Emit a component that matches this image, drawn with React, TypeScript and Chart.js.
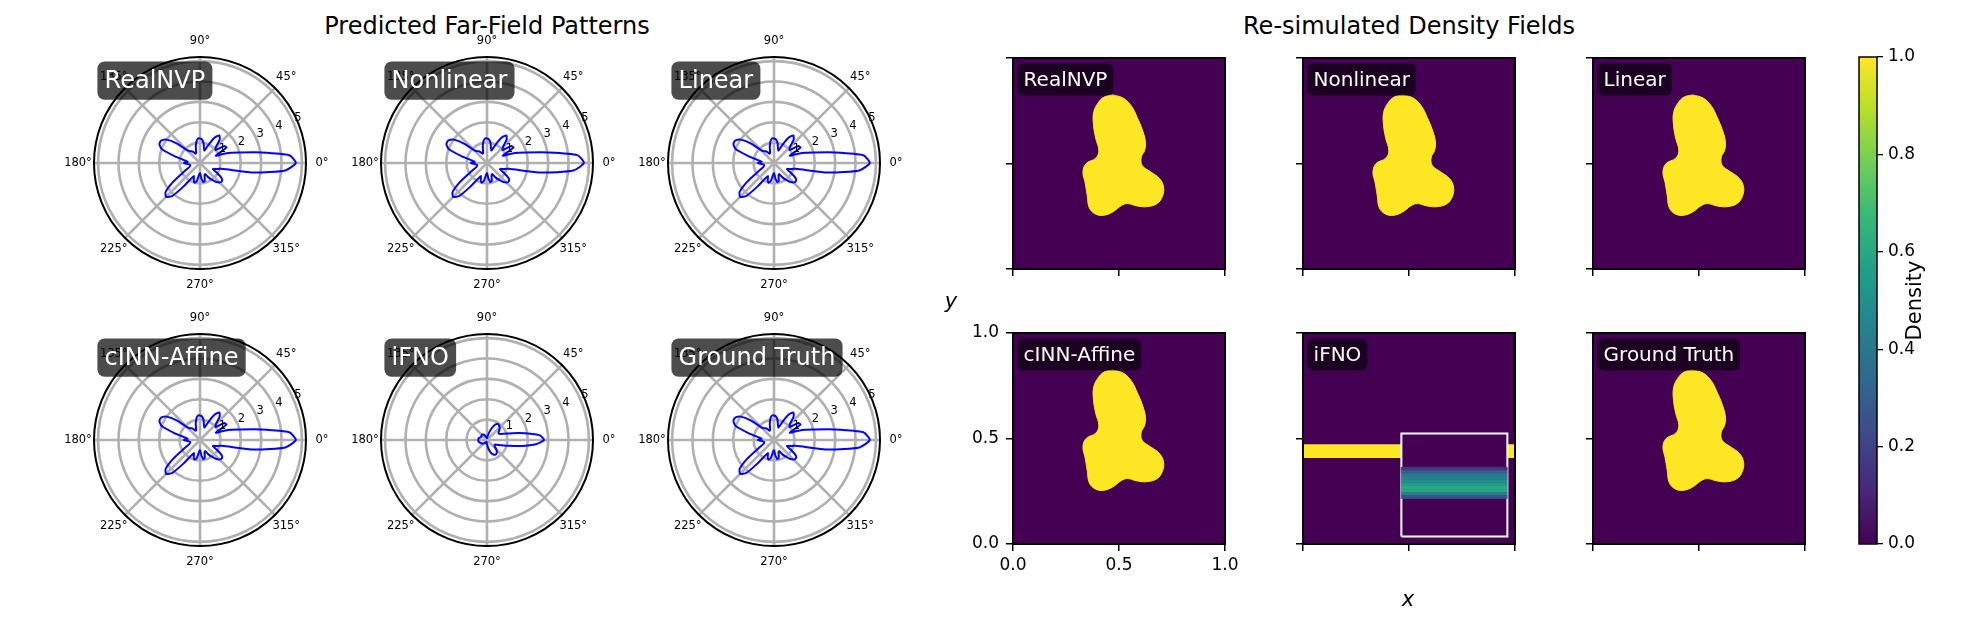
import React, { useEffect, useRef } from 'react';
import { Chart, registerables } from 'chart.js';

Chart.register(...registerables);
Chart.defaults.font.family = '"DejaVu Sans", sans-serif';
Chart.defaults.color = '#000';

// ---------- data: far-field patterns (radius vs angle, degrees counter-clockwise) ----------
const ANGLES_DEG = [0, 5, 10, 15, 20, 25, 30, 35, 40, 45, 50, 55, 60, 65, 70, 75, 80, 85, 90, 95, 100, 105, 110, 115, 120, 125, 130, 135, 140, 145, 150, 155, 160, 165, 170, 175, 180, 185, 190, 195, 200, 205, 210, 215, 220, 225, 230, 235, 240, 245, 250, 255, 260, 265, 270, 275, 280, 285, 290, 295, 300, 305, 310, 315, 320, 325, 330, 335, 340, 345, 350, 355];

const REALNVP = [4.7, 4.4, 3.0, 2.0, 1.45, 0.85, 1.5, 1.45, 1.0, 1.1, 1.5, 1.65, 1.45, 1.0, 0.65, 0.75, 1.0, 1.15, 1.2, 1.2, 1.05, 0.8, 0.55, 0.5, 0.6, 0.7, 0.75, 0.9, 1.5, 2.0, 2.2, 2.2, 2.0, 1.3, 0.8, 0.6, 0.8, 0.6, 0.5, 0.5, 0.55, 0.7, 1.0, 1.6, 2.2, 2.35, 2.1, 1.4, 0.9, 0.7, 0.9, 1.0, 0.9, 0.6, 0.5, 0.75, 0.95, 0.9, 0.65, 0.6, 0.8, 1.0, 1.2, 1.35, 1.4, 1.3, 0.95, 0.7, 0.85, 1.1, 2.7, 4.2];
const NONLINEAR = [4.75, 4.45, 3.0, 2.0, 1.45, 0.85, 1.5, 1.45, 1.0, 1.1, 1.5, 1.65, 1.45, 1.0, 0.65, 0.75, 1.0, 1.15, 1.2, 1.2, 1.05, 0.8, 0.55, 0.5, 0.6, 0.7, 0.75, 0.9, 1.5, 2.0, 2.2, 2.2, 2.0, 1.3, 0.8, 0.6, 0.8, 0.6, 0.5, 0.5, 0.55, 0.7, 1.0, 1.6, 2.2, 2.35, 2.1, 1.4, 0.9, 0.7, 0.9, 1.0, 0.9, 0.6, 0.5, 0.75, 0.95, 0.9, 0.65, 0.6, 0.8, 1.0, 1.2, 1.35, 1.4, 1.3, 0.95, 0.7, 0.85, 1.1, 2.7, 4.25];
const LINEAR = [4.7, 4.4, 3.0, 2.0, 1.45, 0.85, 1.5, 1.45, 1.0, 1.1, 1.5, 1.65, 1.45, 1.0, 0.65, 0.75, 1.0, 1.15, 1.2, 1.2, 1.05, 0.8, 0.55, 0.5, 0.6, 0.7, 0.75, 0.9, 1.5, 2.0, 2.2, 2.2, 2.0, 1.3, 0.8, 0.6, 0.8, 0.6, 0.5, 0.5, 0.55, 0.7, 1.0, 1.6, 2.2, 2.35, 2.1, 1.4, 0.9, 0.7, 0.9, 1.0, 0.9, 0.6, 0.5, 0.75, 0.95, 0.9, 0.65, 0.6, 0.8, 1.0, 1.2, 1.35, 1.4, 1.3, 0.95, 0.7, 0.85, 1.1, 2.7, 4.2];
const CINN_AFFINE = [4.7, 4.4, 3.0, 2.0, 1.45, 0.85, 1.5, 1.45, 1.0, 1.1, 1.5, 1.65, 1.45, 1.0, 0.65, 0.75, 1.0, 1.15, 1.2, 1.2, 1.05, 0.8, 0.55, 0.5, 0.6, 0.7, 0.75, 0.9, 1.5, 2.0, 2.2, 2.2, 2.0, 1.3, 0.8, 0.6, 0.8, 0.6, 0.5, 0.5, 0.55, 0.7, 1.0, 1.6, 2.2, 2.35, 2.1, 1.4, 0.9, 0.7, 0.9, 1.0, 0.9, 0.6, 0.5, 0.75, 0.95, 0.9, 0.65, 0.6, 0.8, 1.0, 1.2, 1.35, 1.4, 1.3, 0.95, 0.7, 0.85, 1.1, 2.7, 4.2];
const IFNO = [2.8, 2.6, 1.9, 1.3, 0.9, 0.7, 0.65, 0.7, 0.8, 0.88, 0.93, 0.95, 0.9, 0.75, 0.55, 0.35, 0.2, 0.12, 0.1, 0.1, 0.12, 0.15, 0.2, 0.25, 0.3, 0.33, 0.35, 0.35, 0.35, 0.33, 0.32, 0.33, 0.36, 0.4, 0.42, 0.43, 0.43, 0.43, 0.42, 0.4, 0.37, 0.34, 0.32, 0.3, 0.28, 0.25, 0.22, 0.18, 0.15, 0.12, 0.1, 0.1, 0.12, 0.15, 0.2, 0.3, 0.45, 0.6, 0.72, 0.8, 0.83, 0.82, 0.75, 0.62, 0.5, 0.45, 0.45, 0.55, 0.75, 1.1, 1.7, 2.4];
const GROUND_TRUTH = [4.7, 4.4, 3.0, 2.0, 1.45, 0.85, 1.5, 1.45, 1.0, 1.1, 1.5, 1.65, 1.45, 1.0, 0.65, 0.75, 1.0, 1.15, 1.2, 1.2, 1.05, 0.8, 0.55, 0.5, 0.6, 0.7, 0.75, 0.9, 1.5, 2.0, 2.2, 2.2, 2.0, 1.3, 0.8, 0.6, 0.8, 0.6, 0.5, 0.5, 0.55, 0.7, 1.0, 1.6, 2.2, 2.35, 2.1, 1.4, 0.9, 0.7, 0.9, 1.0, 0.9, 0.6, 0.5, 0.75, 0.95, 0.9, 0.65, 0.6, 0.8, 1.0, 1.2, 1.35, 1.4, 1.3, 0.95, 0.7, 0.85, 1.1, 2.7, 4.2];

const MODEL_NAMES = ['RealNVP', 'Nonlinear', 'Linear', 'cINN-Affine', 'iFNO', 'Ground Truth'];
const PATTERNS = [REALNVP, NONLINEAR, LINEAR, CINN_AFFINE, IFNO, GROUND_TRUTH];

const RADIAL_TICKS = [1, 2, 3, 4, 5];
const ANGLE_TICKS = [0, 45, 90, 135, 180, 225, 270, 315];
const R_MAX = 5.2;
const R_LABEL_ANGLE = 22.5;

// ---------- data: density fields (unit square) ----------
const BLOB_X = [0.47, 0.52, 0.56, 0.585, 0.61, 0.625, 0.62, 0.605, 0.61, 0.65, 0.69, 0.71, 0.705, 0.68, 0.63, 0.58, 0.54, 0.51, 0.47, 0.43, 0.39, 0.36, 0.35, 0.34, 0.33, 0.345, 0.39, 0.405, 0.39, 0.38, 0.38, 0.40, 0.43, 0.47];
const BLOB_Y = [0.825, 0.81, 0.77, 0.72, 0.66, 0.60, 0.56, 0.53, 0.49, 0.46, 0.43, 0.39, 0.345, 0.31, 0.295, 0.30, 0.31, 0.30, 0.27, 0.255, 0.26, 0.29, 0.35, 0.41, 0.46, 0.50, 0.525, 0.56, 0.62, 0.68, 0.74, 0.785, 0.815, 0.825];

const IFNO_BAND_Y = [0.41, 0.47];
const INSET_X = [0.464, 0.964];
const INSET_Y = [0.035, 0.524];
const INSET_ROW_EDGES = [0.215, 0.23, 0.245, 0.26, 0.275, 0.29, 0.305, 0.32, 0.335, 0.35, 0.365];
const INSET_ROW_VALUES = [0.25, 0.45, 0.6, 0.6, 0.55, 0.5, 0.45, 0.4, 0.3, 0.15];

const DENSITY_TICKS = [0, 0.5, 1];
const CBAR_TICKS = [0, 0.2, 0.4, 0.6, 0.8, 1.0];

const VIRIDIS = ['#440154', '#482878', '#3e4989', '#31688e', '#26828e', '#1f9e89', '#35b779', '#6ece58', '#b5de2b', '#fde725'];
const PURPLE = VIRIDIS[0];
const YELLOW = VIRIDIS[VIRIDIS.length - 1];

function hexToRgb(h: string) {
  const n = parseInt(h.slice(1), 16);
  return [(n >> 16) & 255, (n >> 8) & 255, n & 255];
}
function viridis(t: number) {
  const x = Math.max(0, Math.min(1, t)) * (VIRIDIS.length - 1);
  const i = Math.min(Math.floor(x), VIRIDIS.length - 2);
  const f = x - i;
  const a = hexToRgb(VIRIDIS[i]);
  const b = hexToRgb(VIRIDIS[i + 1]);
  const c = a.map((v, k) => Math.round(v + (b[k] - v) * f));
  return `rgb(${c[0]},${c[1]},${c[2]})`;
}

const FONT = '"DejaVu Sans", sans-serif';

function drawLabelBox(c: CanvasRenderingContext2D, text: string, left: number, top: number, size: number, f: number, alpha: number) {
  c.save();
  c.font = `${f}px ${FONT}`;
  const tx = left + 0.05 * size;
  const ty = top + 0.05 * size + 1;
  const tw = c.measureText(text).width;
  const pad = 0.3 * f;
  const bx = tx - pad, by = ty - pad, bw = tw + 2 * pad, bh = f + 2 * pad;
  c.beginPath();
  (c as any).roundRect(bx, by, bw, bh, pad);
  c.fillStyle = `rgba(0,0,0,${alpha})`;
  c.fill();
  c.fillStyle = '#fff';
  c.textAlign = 'left';
  c.textBaseline = 'middle';
  c.fillText(text, tx, by + bh / 2 + 1);
  c.restore();
}

// ---------- polar panel ----------
const PW = 290, PH = 280;
function PolarPanel({ title, values, cx, cy }: { title: string; values: number[]; cx: number; cy: number }) {
  const ref = useRef<HTMLCanvasElement>(null);
  useEffect(() => {
    const n = ANGLES_DEG.length;
    const step = 360 / n;
    // radar goes clockwise from startAngle; map index i -> math angle -i*step
    const order = ANGLES_DEG.map((_, i) => (n - i) % n);
    const labels = order.map((k) => ANGLES_DEG[k]);
    const data = order.map((k) => values[k]);
    const idxOf = (deg: number) => ((360 - deg) % 360) / step;
    const decor = {
      id: 'polarDecor',
      afterDraw(chart: any) {
        const s = chart.scales.r;
        const c: CanvasRenderingContext2D = chart.ctx;
        const R = s.getDistanceFromCenterForValue(R_MAX);
        c.save();
        c.beginPath();
        c.arc(s.xCenter, s.yCenter, R, 0, Math.PI * 2);
        c.strokeStyle = '#000';
        c.lineWidth = 2;
        c.stroke();
        c.fillStyle = '#000';
        c.font = `11.5px ${FONT}`;
        c.textAlign = 'center';
        c.textBaseline = 'middle';
        ANGLE_TICKS.forEach((a) => {
          const p = s.getPointPosition(idxOf(a), R + 16);
          c.fillText(`${a}°`, p.x, p.y);
        });
        c.textAlign = 'left';
        c.textBaseline = 'bottom';
        RADIAL_TICKS.forEach((v) => {
          const p = s.getPointPosition(idxOf(R_LABEL_ANGLE), s.getDistanceFromCenterForValue(v));
          c.fillText(String(v), p.x, p.y);
        });
        c.restore();
        drawLabelBox(c, title, s.xCenter - R, s.yCenter - R, 2 * R, 24, 0.7);
      },
    };
    const chart = new Chart(ref.current as HTMLCanvasElement, {
      type: 'radar',
      data: {
        labels,
        datasets: [{ data, borderColor: '#0000ff', borderWidth: 2, pointRadius: 0, fill: false, tension: 0.2 } as any],
      },
      options: {
        responsive: false,
        animation: false,
        events: [],
        layout: { padding: { left: 39, right: 39, top: 34, bottom: 34 } },
        plugins: { legend: { display: false }, tooltip: { enabled: false } },
        scales: {
          r: {
            min: 0,
            max: R_MAX,
            startAngle: 90,
            ticks: { display: false, stepSize: 1, includeBounds: false },
            grid: { circular: true, color: '#b0b0b0', lineWidth: 2.6 },
            angleLines: {
              display: true,
              color: '#b0b0b0',
              lineWidth: (ctx: any) => (ANGLE_TICKS.includes(labels[ctx.index]) ? 2.6 : 0),
            },
            pointLabels: { display: false },
          } as any,
        },
      },
      plugins: [decor],
    });
    return () => chart.destroy();
  }, []);
  return (
    <canvas ref={ref} width={PW} height={PH}
      style={{ position: 'absolute', left: cx - PW / 2, top: cy - PH / 2, width: PW, height: PH }} />
  );
}

// ---------- density panel ----------
const PAD_L = 70, PAD_R = 25, PAD_T = 15, PAD_B = 45;
const PANEL_W = 212, PANEL_H = 211;

function rectPoints(x0: number, x1: number, y0: number, y1: number) {
  return [{ x: x0, y: y0 }, { x: x1, y: y0 }, { x: x1, y: y1 }, { x: x0, y: y1 }, { x: x0, y: y0 }];
}

function DensityPanel({ title, kind, left, top, showX, showY }: { title: string; kind: string; left: number; top: number; showX: boolean; showY: boolean }) {
  const ref = useRef<HTMLCanvasElement>(null);
  useEffect(() => {
    const datasets: any[] = [];
    const poly = (pts: any[], color: string, tension = 0, border = color, bw = 1) => ({
      data: pts, fill: 'shape', backgroundColor: color, borderColor: border, borderWidth: bw, pointRadius: 0, tension,
    });
    if (kind === 'blob') {
      datasets.push(poly(BLOB_X.map((x, i) => ({ x, y: BLOB_Y[i] })), YELLOW, 0.4));
    } else {
      INSET_ROW_VALUES.forEach((v, i) => {
        datasets.push(poly(rectPoints(INSET_X[0], INSET_X[1], INSET_ROW_EDGES[i], INSET_ROW_EDGES[i + 1]), viridis(v), 0, viridis(v), 0.5));
      });
      datasets.push(poly(rectPoints(INSET_X[0], INSET_X[1], INSET_Y[0], INSET_Y[1]), PURPLE, 0, '#ffffff', 2));
      datasets.push(poly(rectPoints(0, 1, IFNO_BAND_Y[0], IFNO_BAND_Y[1]), YELLOW, 0));
    }
    const decor = {
      id: 'densityDecor',
      beforeDatasetsDraw(chart: any) {
        const a = chart.chartArea;
        const c = chart.ctx;
        c.save();
        c.fillStyle = PURPLE;
        c.fillRect(a.left, a.top, a.right - a.left, a.bottom - a.top);
        c.restore();
      },
      afterDraw(chart: any) {
        const a = chart.chartArea;
        const c = chart.ctx;
        c.save();
        c.strokeStyle = '#000';
        c.lineWidth = 2;
        c.strokeRect(a.left, a.top, a.right - a.left, a.bottom - a.top);
        c.restore();
        drawLabelBox(c, title, a.left, a.top, a.right - a.left, 20, 0.6);
      },
    };
    const fixW = (w: number) => (s: any) => { s.width = w; s.paddingLeft = 0; s.paddingRight = 0; s.paddingTop = 0; s.paddingBottom = 0; };
    const fixH = (h: number) => (s: any) => { s.height = h; s.paddingLeft = 0; s.paddingRight = 0; s.paddingTop = 0; s.paddingBottom = 0; };
    const axisCommon = {
      type: 'linear',
      min: 0,
      max: 1,
      grid: { display: true, drawOnChartArea: false, drawTicks: true, tickLength: 7, color: '#000', lineWidth: 1.5 },
      border: { display: false },
    };
    const chart = new Chart(ref.current as HTMLCanvasElement, {
      type: 'line',
      data: { datasets },
      options: {
        responsive: false,
        animation: false,
        events: [],
        layout: { padding: { left: 0, right: PAD_R, top: PAD_T, bottom: 0 } },
        plugins: { legend: { display: false }, tooltip: { enabled: false } },
        scales: {
          x: {
            ...axisCommon,
            afterBuildTicks: (s: any) => { s.ticks = DENSITY_TICKS.map((v) => ({ value: v })); },
            ticks: { color: showX ? '#000' : 'rgba(0,0,0,0)', font: { size: 17 }, padding: 4, maxRotation: 0, autoSkip: false, callback: (v: any) => Number(v).toFixed(1) },
            afterFit: fixH(PAD_B),
          } as any,
          y: {
            ...axisCommon,
            afterBuildTicks: (s: any) => { s.ticks = DENSITY_TICKS.map((v) => ({ value: v })); },
            ticks: { color: showY ? '#000' : 'rgba(0,0,0,0)', font: { size: 17 }, padding: 7, autoSkip: false, callback: (v: any) => Number(v).toFixed(1) },
            afterFit: fixW(PAD_L),
          } as any,
        },
      },
      plugins: [decor],
    });
    return () => chart.destroy();
  }, []);
  const W = PAD_L + PANEL_W + PAD_R, H = PAD_T + PANEL_H + PAD_B;
  return (
    <canvas ref={ref} width={W} height={H}
      style={{ position: 'absolute', left: left - PAD_L, top: top - PAD_T, width: W, height: H }} />
  );
}

// ---------- colorbar ----------
function Colorbar({ left, top, width, height, label }: { left: number; top: number; width: number; height: number; label: string }) {
  const ref = useRef<HTMLCanvasElement>(null);
  const PL = 5, PT = 12, AX = 90;
  useEffect(() => {
    const frame = {
      id: 'cbarFrame',
      afterDraw(chart: any) {
        const a = chart.chartArea;
        const c = chart.ctx;
        c.save();
        c.strokeStyle = '#000';
        c.lineWidth = 1.5;
        c.strokeRect(a.left, a.top, a.right - a.left, a.bottom - a.top);
        c.translate(a.right + 39, (a.top + a.bottom) / 2);
        c.rotate(-Math.PI / 2);
        c.font = `21px ${FONT}`;
        c.fillStyle = '#000';
        c.textAlign = 'center';
        c.textBaseline = 'middle';
        c.fillText(label, 0, 0);
        c.restore();
      },
    };
    const chart = new Chart(ref.current as HTMLCanvasElement, {
      type: 'bar',
      data: {
        labels: [label],
        datasets: [{
          data: [1],
          borderWidth: 0,
          barPercentage: 1,
          categoryPercentage: 1,
          backgroundColor: (ctx: any) => {
            const ch = ctx.chart;
            const ys = ch.scales.y;
            if (!ys || !ch.chartArea) return YELLOW;
            const g = ch.ctx.createLinearGradient(0, ys.getPixelForValue(0), 0, ys.getPixelForValue(1));
            VIRIDIS.forEach((col, i) => g.addColorStop(i / (VIRIDIS.length - 1), col));
            return g;
          },
        } as any],
      },
      options: {
        responsive: false,
        animation: false,
        events: [],
        layout: { padding: { left: PL, right: 0, top: PT, bottom: PT } },
        plugins: { legend: { display: false }, tooltip: { enabled: false } },
        scales: {
          x: { display: false },
          y: {
            position: 'right',
            min: 0,
            max: 1,
            afterBuildTicks: (s: any) => { s.ticks = CBAR_TICKS.map((v) => ({ value: v })); },
            ticks: { font: { size: 17 }, padding: 5, color: '#000', callback: (v: any) => Number(v).toFixed(1) },
            grid: { display: true, drawOnChartArea: false, drawTicks: true, tickLength: 6, color: '#000', lineWidth: 1.3 },
            border: { display: false },
            afterFit: (s: any) => { s.width = AX; s.paddingTop = 0; s.paddingBottom = 0; },
          } as any,
        },
      },
      plugins: [frame],
    });
    return () => chart.destroy();
  }, []);
  const W = PL + width + AX, H = PT + height + PT;
  return (
    <canvas ref={ref} width={W} height={H}
      style={{ position: 'absolute', left: left - PL, top: top - PT, width: W, height: H }} />
  );
}

function Label({ text, x, y, size, italic }: { text: string; x: number; y: number; size: number; italic?: boolean }) {
  return (
    <div style={{
      position: 'absolute', left: x, top: y, transform: 'translate(-50%,-50%)',
      fontFamily: FONT, fontSize: size, fontStyle: italic ? 'italic' : 'normal', whiteSpace: 'nowrap', lineHeight: 1, color: '#000',
    }}>{text}</div>
  );
}

const POLAR_X = [200, 487, 774];
const POLAR_Y = [163, 440];
const DENS_X = [1013, 1303, 1593];
const DENS_Y = [58, 333];

export default function App() {
  return (
    <div style={{ position: 'fixed', left: 0, top: 0, width: 1975, height: 625, background: '#fff', overflow: 'hidden' }}>
      <Label text="Predicted Far-Field Patterns" x={487} y={26} size={24} />
      <Label text="Re-simulated Density Fields" x={1409} y={26} size={24} />
      {MODEL_NAMES.map((name, i) => (
        <PolarPanel key={name} title={name} values={PATTERNS[i]} cx={POLAR_X[i % 3]} cy={POLAR_Y[Math.floor(i / 3)]} />
      ))}
      {MODEL_NAMES.map((name, i) => (
        <DensityPanel key={'d' + name} title={name} kind={name === 'iFNO' ? 'ifno' : 'blob'}
          left={DENS_X[i % 3]} top={DENS_Y[Math.floor(i / 3)]}
          showX={i === 3} showY={i === 3} />
      ))}
      <Colorbar left={1859} top={57} width={18} height={487} label="Density" />
      <Label text="y" x={951} y={301} size={21} italic />
      <Label text="x" x={1408} y={599} size={21} italic />
    </div>
  );
}
